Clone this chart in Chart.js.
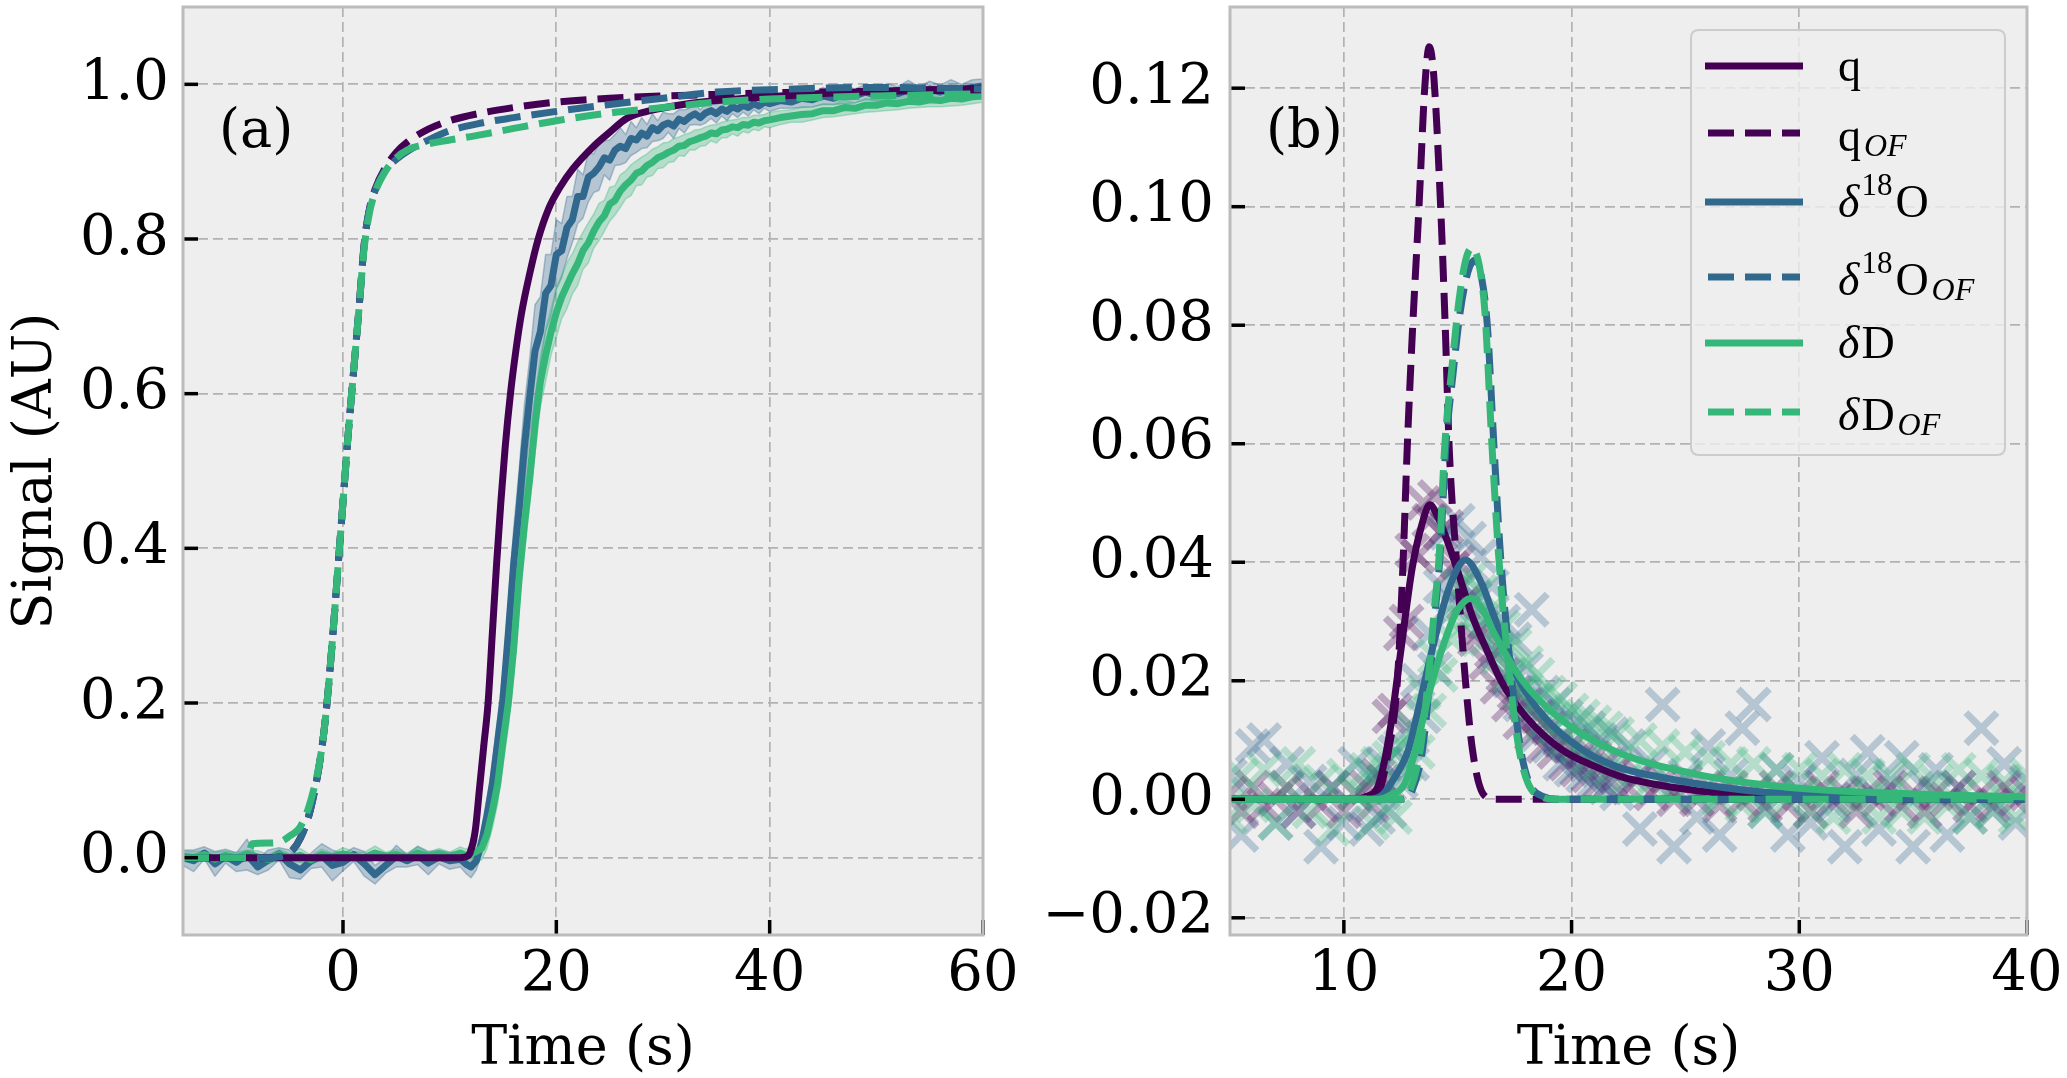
<!DOCTYPE html>
<html><head><meta charset="utf-8">
<script src="https://cdn.jsdelivr.net/npm/chart.js@4.4.0/dist/chart.umd.min.js"></script>
<style>
html,body{margin:0;padding:0;background:#fff;}
#wrap{position:relative;width:2067px;height:1078px;overflow:hidden;background:#fff;}
canvas{position:absolute;top:0;}
#ca{left:0;} #cb{left:1040px;}
.ttl{position:absolute;font-family:"DejaVu Serif",serif;font-size:54px;line-height:54px;height:54px;text-align:center;color:#000;white-space:nowrap;}
</style></head><body>
<div id="wrap">
<canvas id="ca" width="1040" height="1078" style="width:1040px;height:1078px"></canvas>
<canvas id="cb" width="1027" height="1078" style="width:1027px;height:1078px"></canvas>
<div class="ttl" id="xta" style="left:183px;width:800px;top:1019px;">Time (s)</div>
<div class="ttl" id="xtb" style="left:1230px;width:797px;top:1019px;">Time (s)</div>
<div class="ttl" id="yta" style="left:-267px;width:600px;top:444px;transform:rotate(-90deg);">Signal (AU)</div>
</div>
<script>
// ---------- Panel (a) data ----------
const xTicksA = [0, 20, 40, 60];
const yTicksA = [0, 0.2, 0.4, 0.6, 0.8, 1.0];
const tMeas = [-15,-14,-13,-12,-11,-10,-9,-8,-7,-6,-5,-4,-3,-2,-1,0,1,2,3,4,5,6,7,8,9,10,11,
11.5,12,12.5,13,13.5,14,14.5,15,15.5,16,16.5,17,17.5,18,18.5,19,19.5,20,20.5,21,21.5,22,22.5,23,23.5,24,24.5,25,25.5,26,26.5,27,27.5,28,28.5,29,29.5,30,30.5,31,31.5,32,32.5,33,33.5,34,34.5,35,35.5,36,36.5,37,37.5,38,38.5,39,39.5,40,
41,42,43,44,45,46,47,48,49,50,51,52,53,54,55,56,57,58,59,60];
const o18Meas = [0.000,-0.004,0.006,-0.008,0.002,-0.006,0.004,-0.012,-0.003,0.005,-0.008,-0.016,-0.004,0.003,-0.010,-0.006,0.004,-0.008,-0.022,-0.010,0.002,-0.004,0.003,-0.007,0.001,-0.004,-0.002,
-0.008,-0.012,-0.004,0.02,0.055,0.095,0.15,0.205,0.29,0.38,0.45,0.53,0.595,0.655,0.68,0.73,0.74,0.78,0.785,0.815,0.825,0.855,0.855,0.88,0.885,0.893,0.905,0.902,0.915,0.92,0.917,0.93,0.928,0.937,0.933,0.944,0.94,0.947,0.95,0.946,0.955,0.952,0.958,0.962,0.957,0.963,0.966,0.962,0.968,0.965,0.971,0.968,0.973,0.97,0.975,0.972,0.977,0.975,
0.979,0.977,0.982,0.98,0.985,0.982,0.987,0.985,0.99,0.986,0.99,0.988,0.993,0.989,0.994,0.99,0.995,0.992,0.996,0.998];
const o18Spread = [0.010,0.014,0.008,0.016,0.009,0.012,0.02,0.01,0.013,0.008,0.018,0.012,0.01,0.015,0.02,0.011,0.009,0.016,0.012,0.01,0.014,0.008,0.012,0.015,0.009,0.011,0.01,
0.012,0.014,0.012,0.015,0.02,0.025,0.03,0.035,0.04,0.045,0.05,0.055,0.05,0.06,0.045,0.05,0.04,0.045,0.035,0.04,0.03,0.035,0.028,0.032,0.025,0.03,0.022,0.026,0.02,0.024,0.018,0.022,0.016,0.02,0.015,0.018,0.013,0.017,0.012,0.016,0.012,0.015,0.011,0.014,0.01,0.013,0.01,0.012,0.009,0.012,0.009,0.011,0.009,0.011,0.008,0.01,0.008,0.01,
0.01,0.008,0.012,0.009,0.011,0.008,0.012,0.009,0.01,0.008,0.011,0.009,0.012,0.008,0.01,0.009,0.011,0.008,0.01,0.009];
const dMeas = [0.002,0.000,0.004,-0.002,0.003,0.000,0.005,0.001,-0.002,0.004,0.000,0.003,-0.003,0.004,0.001,0.005,0.002,0.000,0.006,0.002,0.004,0.000,0.006,0.002,0.005,0.001,0.006,
0.003,0.005,0.008,0.012,0.03,0.06,0.095,0.15,0.2,0.27,0.36,0.43,0.49,0.56,0.615,0.65,0.68,0.705,0.725,0.74,0.755,0.768,0.785,0.795,0.81,0.822,0.83,0.845,0.85,0.862,0.87,0.876,0.885,0.888,0.895,0.899,0.905,0.908,0.912,0.915,0.92,0.921,0.926,0.928,0.931,0.933,0.937,0.936,0.941,0.942,0.945,0.944,0.948,0.947,0.951,0.95,0.953,0.954,
0.957,0.959,0.961,0.962,0.966,0.966,0.97,0.969,0.973,0.973,0.976,0.975,0.978,0.977,0.98,0.979,0.982,0.981,0.984,0.985];
const dSpread = [0.006,0.008,0.005,0.009,0.006,0.007,0.005,0.008,0.006,0.007,0.005,0.009,0.006,0.007,0.005,0.008,0.006,0.007,0.009,0.005,0.007,0.006,0.008,0.005,0.007,0.006,0.008,
0.008,0.01,0.012,0.015,0.018,0.022,0.025,0.03,0.032,0.035,0.035,0.038,0.034,0.036,0.032,0.034,0.03,0.032,0.028,0.03,0.026,0.028,0.024,0.026,0.022,0.024,0.02,0.022,0.019,0.021,0.018,0.02,0.016,0.018,0.015,0.017,0.014,0.016,0.013,0.015,0.012,0.014,0.011,0.013,0.011,0.012,0.01,0.012,0.01,0.011,0.009,0.011,0.009,0.01,0.009,0.01,0.008,0.01,
0.009,0.008,0.01,0.008,0.009,0.008,0.01,0.007,0.009,0.008,0.01,0.008,0.009,0.007,0.009,0.008,0.01,0.008,0.009,0.008];
const tQFitA = [-15,11,11.5,11.9,12.4,12.8,13.2,13.6,14.0,14.4,14.8,15.2,15.7,16.2,16.75,17.5,18.3,19.3,20.3,21.5,23.5,25,26.6,28.5,31,35,40,45,50,55,60];
const qFitA = [0,0,0.001,0.006,0.035,0.09,0.145,0.2,0.29,0.38,0.46,0.53,0.6,0.655,0.705,0.755,0.8,0.84,0.866,0.89,0.92,0.938,0.956,0.965,0.972,0.979,0.984,0.988,0.991,0.993,0.995];
const tOFA = [-15,-9,-8.5,-7,-6,-5,-4,-3,-2,-1.5,-1,-0.5,0,0.5,1,1.5,2,2.5,3,4,5,6,8,10,13,16,20,25,30,35,40,50,60];
const qOFA = [0,0,0,0,0.001,0.006,0.025,0.065,0.14,0.2,0.28,0.37,0.46,0.55,0.63,0.71,0.795,0.84,0.864,0.893,0.912,0.925,0.942,0.953,0.963,0.97,0.977,0.982,0.985,0.987,0.989,0.991,0.993];
const o18OFA = [0,0,0,0,0.001,0.006,0.025,0.065,0.14,0.2,0.28,0.37,0.46,0.55,0.63,0.71,0.795,0.84,0.862,0.89,0.903,0.913,0.928,0.94,0.95,0.957,0.965,0.974,0.982,0.99,0.993,0.996,0.994];
const dOFA = [0,0,0.018,0.019,0.02,0.028,0.04,0.075,0.14,0.2,0.28,0.37,0.46,0.55,0.63,0.71,0.79,0.835,0.86,0.888,0.905,0.915,0.923,0.928,0.935,0.943,0.953,0.963,0.97,0.977,0.981,0.985,0.988];

// ---------- Panel (b) data ----------
const xTicksB = [10, 20, 30, 40];
const yTicksB = [-0.02, 0, 0.02, 0.04, 0.06, 0.08, 0.10, 0.12];
const tRaw = [5,5.5,6,6.5,7,7.5,8,8.5,9,9.5,10,10.5,
11,11.25,11.5,11.75,12,12.25,12.5,12.75,13,13.25,13.5,13.75,14,14.25,14.5,14.75,15,15.25,15.5,15.75,16,16.25,16.5,16.75,17,17.25,17.5,17.75,18,18.25,18.5,18.75,19,19.25,19.5,19.75,20,20.25,20.5,20.75,21,21.25,21.5,21.75,22,
22.5,23,23.5,24,24.5,25,25.5,26,26.5,27,27.5,28,28.5,29,29.5,30,30.5,31,31.5,32,32.5,33,33.5,34,34.5,35,35.5,36,36.5,37,37.5,38,38.5,39,39.5,40];
const qRaw = [0.001,-0.002,0.002,-0.001,0.000,0.002,-0.002,0.001,-0.001,0.002,-0.002,0.001,
0.002,-0.001,0.004,0.003,0.014,0.015,0.028,0.030,0.042,0.041,0.050,0.047,0.051,0.045,0.046,0.039,0.040,0.033,0.034,0.027,0.029,0.023,0.025,0.019,0.021,0.016,0.018,0.013,0.016,0.011,0.014,0.009,0.012,0.008,0.010,0.006,0.009,0.005,0.008,0.004,0.007,0.003,0.006,0.003,0.005,
0.002,0.004,0.001,0.003,0.000,0.003,0.000,0.002,-0.001,0.002,0.000,0.001,-0.001,0.002,-0.001,0.001,-0.002,0.002,0.000,0.001,-0.002,0.001,0.000,0.002,-0.001,0.001,-0.002,0.001,0.000,0.002,-0.001,0.001,-0.001,0.002,0.000,0.001];
const o18Raw = [0.004,-0.006,0.009,0.010,-0.004,0.006,-0.002,0.003,-0.008,0.002,-0.004,0.006,
-0.005,0.004,-0.003,0.006,-0.002,0.008,0.003,0.012,0.006,0.020,0.014,0.028,0.022,0.036,0.045,0.033,0.047,0.036,0.044,0.034,0.041,0.030,0.036,0.025,0.030,0.020,0.027,0.016,0.022,0.032,0.011,0.018,0.009,0.016,0.006,0.014,0.005,0.013,0.004,0.012,0.003,0.010,0.002,0.011,0.001,
0.009,-0.005,0.006,0.016,-0.008,0.004,-0.003,0.009,-0.006,0.004,0.012,0.016,-0.002,0.005,-0.006,0.003,-0.004,0.007,-0.001,-0.008,0.004,0.008,-0.005,0.003,0.007,-0.008,0.002,0.005,-0.006,0.002,-0.003,0.012,-0.002,0.006,-0.004,0.003];
const dRaw = [-0.003,0.004,-0.001,0.005,-0.004,0.002,0.006,-0.002,0.003,-0.005,0.004,0.001,
0.005,-0.004,0.006,0.001,0.007,-0.003,0.009,0.006,0.012,0.008,0.018,0.015,0.024,0.021,0.031,0.027,0.036,0.030,0.037,0.031,0.035,0.027,0.032,0.024,0.029,0.021,0.026,0.018,0.023,0.016,0.021,0.013,0.018,0.012,0.017,0.010,0.015,0.009,0.014,0.007,0.013,0.006,0.012,0.005,0.011,
0.004,0.010,0.003,0.009,0.002,0.008,0.001,0.007,0.000,0.006,-0.001,0.006,-0.002,0.005,0.000,0.005,-0.002,0.004,-0.003,0.005,-0.001,0.004,-0.003,0.004,-0.002,0.005,-0.003,0.003,-0.001,0.005,-0.003,0.004,-0.002,0.003,-0.003,0.004];
const tQFitB = [5,10.5,11,11.5,12,12.5,13,13.4,13.77,14.2,14.6,15,15.65,16.3,16.9,18,19.6,21,22.2,25.4,28,32,40];
const qFitB = [0,0,0.0005,0.0022,0.011,0.025,0.039,0.046,0.0497,0.047,0.043,0.0385,0.0308,0.025,0.02,0.0139,0.0083,0.0056,0.0038,0.0015,0.0006,0.0001,0];
const tO18FitB = [5,11,11.7,12.2,12.83,13.2,13.53,14.24,14.7,15.34,16.04,16.6,17.7,18.8,20.5,22,23.8,27.7,32,40];
const o18FitB = [0,0,0.0008,0.0035,0.0083,0.014,0.0195,0.0308,0.0365,0.0404,0.0365,0.0308,0.02,0.0139,0.0083,0.0055,0.0038,0.0015,0.0005,0];
const tDFitB = [5,11.5,12.1,12.67,13.14,13.85,14.55,15.0,15.57,16.1,16.6,17.85,19.4,21.8,25.4,29.6,35,40];
const dFitB = [0,0,0.0008,0.0026,0.0083,0.0195,0.028,0.032,0.0339,0.032,0.028,0.02,0.0139,0.0083,0.0043,0.002,0.0009,0.0004];
const tQOFB = [5,11.0,11.5,11.95,12.35,12.6,12.78,13.0,13.3,13.55,13.75,13.95,14.25,14.45,14.63,14.95,15.34,15.65,16.1,16.6,40];
const qOFB = [0,0,0.001,0.008,0.02,0.04,0.059,0.078,0.1,0.12,0.127,0.122,0.1,0.08,0.059,0.04,0.02,0.0083,0.001,0,0];
const tO18OFB = [5,12.6,13.0,13.45,13.77,14.0,14.24,14.47,14.8,15.1,15.45,15.75,16.05,16.3,16.6,16.9,17.38,17.77,18.16,18.8,19.3,40];
const o18OFB = [0,0,0.0015,0.0083,0.02,0.031,0.042,0.059,0.072,0.082,0.089,0.091,0.088,0.08,0.059,0.04,0.02,0.0083,0.0026,0.0004,0,0];
const tDOFB = [5,12.5,12.9,13.35,13.7,13.95,14.2,14.42,14.75,15.05,15.35,15.62,15.95,16.2,16.5,16.8,17.3,17.7,18.1,18.7,19.2,40];
const dOFB = [0,0,0.0015,0.0083,0.02,0.031,0.042,0.059,0.073,0.084,0.091,0.093,0.09,0.082,0.06,0.041,0.02,0.0083,0.0026,0.0004,0,0];
const legendLabels = ['q', 'q_OF', 'δ^18O', 'δ^18O_OF', 'δD', 'δD_OF'];

// ---------- styling ----------
const SERIF = '"DejaVu Serif", serif';
const LEGFONT = '"Liberation Serif", "DejaVu Serif", serif';
const PURPLE = '#440154', BLUE = '#31688e', GREEN = '#35b779';
const DASH = [26, 11];
const LW = 7;
const TICKSIZE = 56;
Chart.defaults.font.family = SERIF;
Chart.defaults.color = '#000';

function pts(xs, ys) { return xs.map((x, i) => ({x: x, y: ys[i]})); }
function offsetArr(a, s, sign) { return a.map((v, i) => v + sign * s[i]); }
function lineDs(o) {
  return Object.assign({pointRadius: 0, borderWidth: LW, fill: false, clip: 0, tension: 0,
    borderCapStyle: 'butt', borderJoinStyle: 'round'}, o);
}
function smooth(o) { return lineDs(Object.assign({cubicInterpolationMode: 'monotone'}, o)); }

const framePlugin = {
  id: 'frame',
  beforeDraw(chart) {
    const {ctx, chartArea: a} = chart;
    ctx.save(); ctx.fillStyle = '#eeeeee';
    ctx.fillRect(a.left, a.top, a.right - a.left, a.bottom - a.top);
    ctx.restore();
  },
  afterDatasetsDraw(chart, args, opts) {
    const {ctx, chartArea: a, scales} = chart;
    ctx.save();
    ctx.setLineDash([]);
    ctx.strokeStyle = '#000'; ctx.lineWidth = 3.5;
    scales.x.ticks.forEach(t => { const px = scales.x.getPixelForValue(t.value);
      ctx.beginPath(); ctx.moveTo(px, a.bottom); ctx.lineTo(px, a.bottom - 15); ctx.stroke(); });
    scales.y.ticks.forEach(t => { const py = scales.y.getPixelForValue(t.value);
      ctx.beginPath(); ctx.moveTo(a.left, py); ctx.lineTo(a.left + 15, py); ctx.stroke(); });
    ctx.strokeStyle = '#bcbcbc'; ctx.lineWidth = 3;
    ctx.strokeRect(a.left, a.top, a.right - a.left, a.bottom - a.top);
    ctx.fillStyle = '#000'; ctx.font = '54px ' + SERIF; ctx.textAlign = 'left'; ctx.textBaseline = 'alphabetic';
    ctx.fillText(opts.label, a.left + 36, a.top + 140);
    ctx.restore();
  }
};

function drawRich(ctx, label, x, y) {
  const toks = label.match(/(\^[0-9]+|_[A-Za-z]+|δ|[^\^_δ])/g);
  toks.forEach(tk => {
    if (tk === 'δ') { ctx.font = 'italic 46px ' + LEGFONT; ctx.fillText(tk, x, y); x += ctx.measureText(tk).width + 2; }
    else if (tk[0] === '^') { const s = tk.slice(1); ctx.font = '31px ' + LEGFONT; ctx.fillText(s, x, y - 22); x += ctx.measureText(s).width + 3; }
    else if (tk[0] === '_') { const s = tk.slice(1); ctx.font = 'italic 32px ' + LEGFONT; ctx.fillText(s, x + 3, y + 5); x += ctx.measureText(s).width + 3; }
    else { ctx.font = '46px ' + LEGFONT; ctx.fillText(tk, x, y); x += ctx.measureText(tk).width; }
  });
}

const legendPlugin = {
  id: 'mlegend',
  afterDatasetsDraw(chart, args, opts) {
    const {ctx, chartArea: a} = chart;
    const bx = a.left + 461, by = a.top + 23, bw = 314, bh = 425, r = 8;
    ctx.save();
    ctx.beginPath();
    ctx.moveTo(bx + r, by); ctx.lineTo(bx + bw - r, by); ctx.quadraticCurveTo(bx + bw, by, bx + bw, by + r);
    ctx.lineTo(bx + bw, by + bh - r); ctx.quadraticCurveTo(bx + bw, by + bh, bx + bw - r, by + bh);
    ctx.lineTo(bx + r, by + bh); ctx.quadraticCurveTo(bx, by + bh, bx, by + bh - r);
    ctx.lineTo(bx, by + r); ctx.quadraticCurveTo(bx, by, bx + r, by); ctx.closePath();
    ctx.fillStyle = 'rgba(238,238,238,0.8)'; ctx.fill();
    ctx.strokeStyle = '#cccccc'; ctx.lineWidth = 2; ctx.stroke();
    const rows = [59, 126, 195, 270, 336, 405];
    opts.dsIdx.forEach((di, i) => {
      const ds = chart.data.datasets[di];
      const dashed = !!(ds.borderDash && ds.borderDash.length);
      const yy = a.top + rows[i];
      ctx.strokeStyle = ds.borderColor; ctx.lineWidth = LW; ctx.lineCap = 'butt';
      ctx.setLineDash(dashed ? ds.borderDash : []);
      ctx.beginPath(); ctx.moveTo(a.left + (dashed ? 478 : 475), yy); ctx.lineTo(a.left + (dashed ? 570 : 573), yy); ctx.stroke();
      ctx.setLineDash([]);
      ctx.fillStyle = '#000'; ctx.textAlign = 'left'; ctx.textBaseline = 'alphabetic';
      const hasSub = legendLabels[i].indexOf('_') >= 0;
      drawRich(ctx, legendLabels[i], a.left + 608, yy + (hasSub ? 18 : 15));
    });
    ctx.restore();
  }
};

function axisCommon(ticksArr, fmt, extra) {
  return Object.assign({
    type: 'linear',
    afterBuildTicks: s => { s.ticks = ticksArr.map(v => ({value: v})); },
    grid: {color: '#b2b2b2', lineWidth: 1.7, drawTicks: false},
    border: {display: false, dash: [10, 5]},
    ticks: {color: '#000', font: {family: SERIF, size: TICKSIZE}, maxRotation: 0, autoSkip: false, callback: fmt},
    title: {display: false}
  }, extra);
}

// ---------- Chart (a) ----------
const axA = {
  x: axisCommon(xTicksA, v => String(v), {min: -15, max: 60,
    afterFit: s => { s.height = 143; s.paddingLeft = 0; s.paddingRight = 0; }}),
  y: axisCommon(yTicksA, v => v.toFixed(1), {min: -0.1, max: 1.1,
    afterFit: s => { s.width = 183; s.paddingTop = 0; s.paddingBottom = 0; }})
};
axA.x.ticks.padding = 7; axA.y.ticks.padding = 14;
new Chart(document.getElementById('ca'), {
  type: 'line',
  data: { datasets: [
    lineDs({data: pts(tMeas, offsetArr(o18Meas, o18Spread, 1)), borderColor: 'rgba(49,104,142,0.35)', borderWidth: 1.5, backgroundColor: 'rgba(49,104,142,0.3)', fill: '+1', order: 10}),
    lineDs({data: pts(tMeas, offsetArr(o18Meas, o18Spread, -1)), borderColor: 'rgba(49,104,142,0.35)', borderWidth: 1.5, order: 10}),
    lineDs({data: pts(tMeas, offsetArr(dMeas, dSpread, 1)), borderColor: 'rgba(53,183,121,0.35)', borderWidth: 1.5, backgroundColor: 'rgba(53,183,121,0.3)', fill: '+1', order: 9}),
    lineDs({data: pts(tMeas, offsetArr(dMeas, dSpread, -1)), borderColor: 'rgba(53,183,121,0.35)', borderWidth: 1.5, order: 9}),
    lineDs({data: pts(tMeas, o18Meas), borderColor: BLUE, order: 6}),
    lineDs({data: pts(tMeas, dMeas), borderColor: GREEN, order: 5}),
    smooth({data: pts(tQFitA, qFitA), borderColor: PURPLE, order: 4}),
    smooth({data: pts(tOFA, qOFA), borderColor: PURPLE, borderDash: DASH, order: 2}),
    smooth({data: pts(tOFA, o18OFA), borderColor: BLUE, borderDash: DASH, order: 1}),
    smooth({data: pts(tOFA, dOFA), borderColor: GREEN, borderDash: DASH, order: 0})
  ]},
  options: {
    responsive: false, animation: false, devicePixelRatio: 1,
    layout: {autoPadding: false, padding: {left: 0, top: 7, right: 57, bottom: 0}},
    plugins: {legend: {display: false}, tooltip: {enabled: false}, frame: {label: '(a)'}},
    scales: axA
  },
  plugins: [framePlugin]
});
</script>
<script>
// ---------- Chart (b) ----------
function xDs(xs, ys, col, ord) {
  return {data: pts(xs, ys), showLine: false, pointStyle: 'crossRot', pointRadius: 22, pointHoverRadius: 22,
    pointBorderWidth: 7, pointBorderColor: col, pointBackgroundColor: col, borderColor: col, clip: 0, order: ord};
}
function tickB(v) { const s = Math.abs(v).toFixed(2); return v < 0 ? '\u2212' + s : s; }
const axB = {
  x: axisCommon(xTicksB, v => String(v), {min: 5, max: 40,
    afterFit: s => { s.height = 143; s.paddingLeft = 0; s.paddingRight = 0; }}),
  y: axisCommon(yTicksB, tickB, {min: -0.0229, max: 0.1337,
    afterFit: s => { s.width = 190; s.paddingTop = 0; s.paddingBottom = 0; }})
};
axB.x.ticks.padding = 7; axB.y.ticks.padding = 16;
new Chart(document.getElementById('cb'), {
  type: 'line',
  data: { datasets: [
    xDs(tRaw, qRaw, 'rgba(68,1,84,0.3)', 12),
    xDs(tRaw, o18Raw, 'rgba(49,104,142,0.3)', 11),
    xDs(tRaw, dRaw, 'rgba(53,183,121,0.3)', 10),
    smooth({data: pts(tQFitB, qFitB), borderColor: PURPLE, order: 5}),
    smooth({data: pts(tQOFB, qOFB), borderColor: PURPLE, borderDash: DASH, order: 4}),
    smooth({data: pts(tO18FitB, o18FitB), borderColor: BLUE, order: 3}),
    smooth({data: pts(tO18OFB, o18OFB), borderColor: BLUE, borderDash: DASH, order: 2}),
    smooth({data: pts(tDFitB, dFitB), borderColor: GREEN, order: 1}),
    smooth({data: pts(tDOFB, dOFB), borderColor: GREEN, borderDash: DASH, order: 0})
  ]},
  options: {
    responsive: false, animation: false, devicePixelRatio: 1,
    layout: {autoPadding: false, padding: {left: 0, top: 7, right: 40, bottom: 0}},
    plugins: {legend: {display: false}, tooltip: {enabled: false}, frame: {label: '(b)'}, mlegend: {dsIdx: [3, 4, 5, 6, 7, 8]}},
    scales: axB
  },
  plugins: [framePlugin, legendPlugin]
});
</script>
</body></html>
